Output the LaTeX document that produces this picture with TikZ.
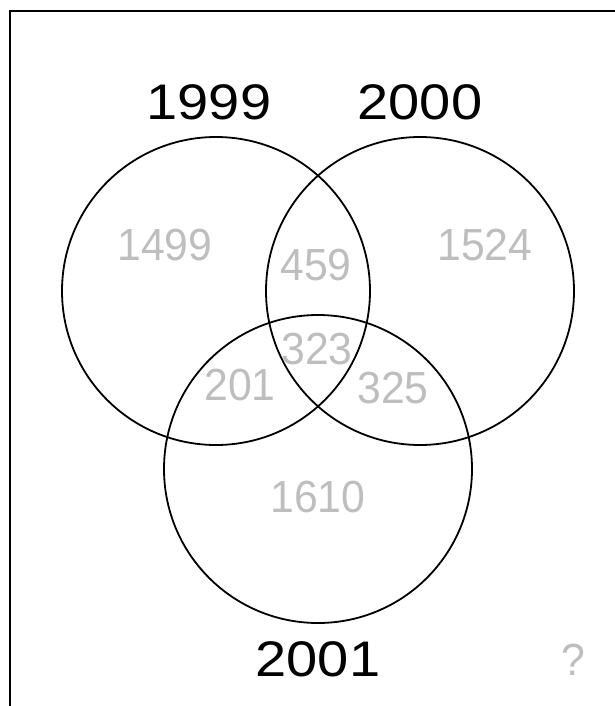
\documentclass[tikz,border=0pt]{standalone}
\usepackage{fontspec}
\setmainfont{Liberation Sans}
\newfontfamily\widesans[FakeStretch=1.12]{Liberation Sans}
\newfontfamily\narrowsans[FakeStretch=0.95]{Liberation Sans}
\definecolor{numgray}{RGB}{190,190,190}
\begin{document}
\begin{tikzpicture}[x=1pt,y=-1pt,
  setc/.style={circle,draw=black,line width=1.8pt,minimum size=308pt,inner sep=0pt},
  setlabel/.style={inner sep=0pt,font=\widesans\fontsize{50}{56}\selectfont,text=black},
  count/.style={inner sep=0pt,font=\narrowsans\fontsize{45}{50}\selectfont,text=numgray}]
\useasboundingbox (0,0) rectangle (615,706);
\draw[line width=1.8pt] (10,706) -- (10,11) -- (615,11);
\node[setc] (c1999) at (216,291) {};
\node[setc] (c2000) at (420,291) {};
\node[setc] (c2001) at (318,469) {};
\node[setlabel] (l1999) at (209,102) {1999};
\node[setlabel] (l2000) at (420,102) {2000};
\node[setlabel] (l2001) at (318,659) {2001};
\node[count] (q) at (573,660) {?};
\node[count] (n1499) at (165,245) {1499};
\node[count] (n459) at (316,265) {459};
\node[count] (n1524) at (485,245) {1524};
\node[count] (n323) at (317,349) {323};
\node[count] (n201) at (240,385) {201};
\node[count] (n325) at (393,388) {325};
\node[count] (n1610) at (318,497) {1610};
\end{tikzpicture}
\end{document}
